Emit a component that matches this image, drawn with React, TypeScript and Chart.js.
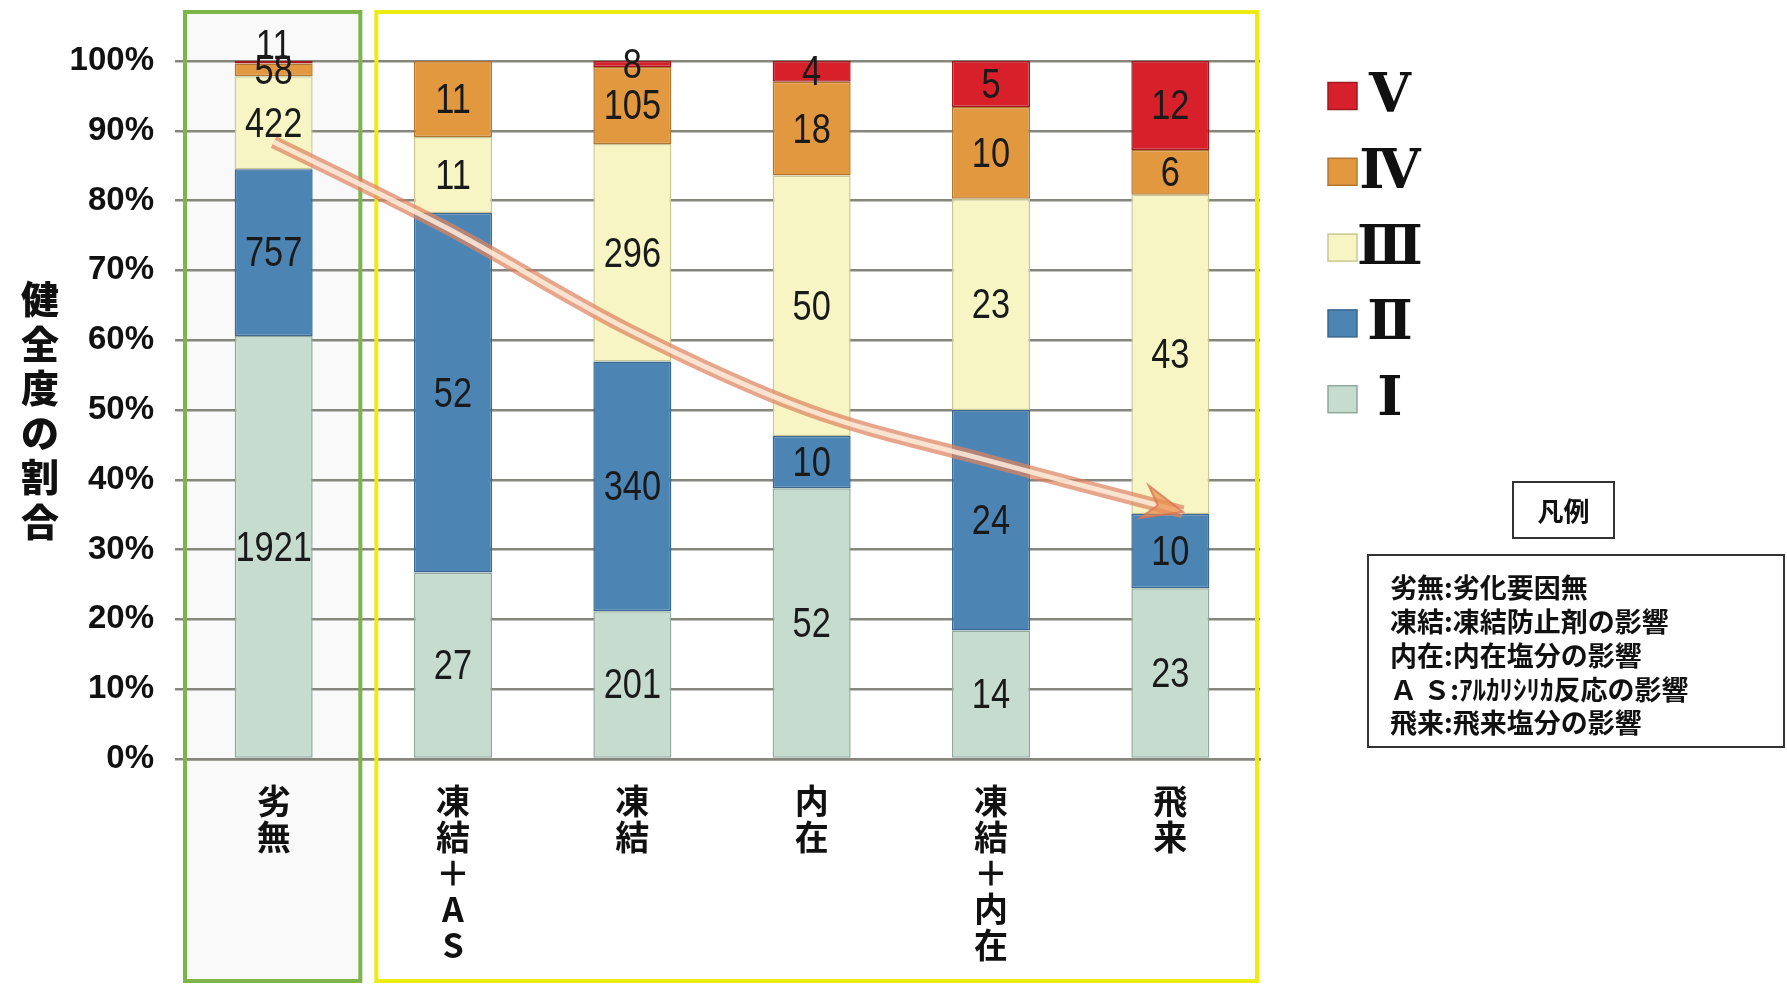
import React, { useEffect, useRef } from "react";
import { Chart, registerables } from "chart.js";

Chart.register(...registerables);

// ---- data ----
const categoryNames = ["劣無", "凍結＋AS", "凍結", "内在", "凍結＋内在", "飛来"];
const seriesNames = ["Ⅰ", "Ⅱ", "Ⅲ", "Ⅳ", "Ⅴ"];
const countsI = [1921, 27, 201, 52, 14, 23];
const countsII = [757, 52, 340, 10, 24, 10];
const countsIII = [422, 11, 296, 50, 23, 43];
const countsIV = [58, 11, 105, 18, 10, 6];
const countsV = [11, 0, 8, 4, 5, 12];
const seriesColors = ["#c6dccf", "#4c84b4", "#f6f5c3", "#e2983f", "#d8202a"];
const seriesBorders = ["#8fa99b", "#3a6890", "#c9c895", "#b27630", "#a3171f"];
const yTitle = "健全度の割合";
const arrowIdx = [0, 0.97, 1.98, 2.98, 3.99, 5.07];
const arrowPct = [88.4, 76, 61.5, 50, 42.7, 35.4];
const noteTitle = "凡例";
const noteLines = [
  "劣無:劣化要因無",
  "凍結:凍結防止剤の影響",
  "内在:内在塩分の影響",
  "Ａ Ｓ:ｱﾙｶﾘｼﾘｶ反応の影響",
  "飛来:飛来塩分の影響",
];

const allCounts = [countsI, countsII, countsIII, countsIV, countsV];
const totals = categoryNames.map((_, j) => allCounts.reduce((s, arr) => s + arr[j], 0));

const CJK = '"Noto Sans CJK JP", "Noto Sans CJK SC", sans-serif';
const gridColor = "#86867e";

const decorPlugin = {
  id: "decor",
  beforeDraw(chart: any) {
    const ctx = chart.ctx;
    const x = chart.scales.x;
    ctx.save();
    ctx.fillStyle = "#ffffff";
    ctx.fillRect(0, 0, chart.width, chart.height);
    const band = x.getPixelForValue(1) - x.getPixelForValue(0);
    const c0 = x.getPixelForValue(0);
    ctx.fillStyle = "rgba(0,0,0,0.022)";
    ctx.fillRect(c0 - band / 2, 12, band - 2, chart.height - 14);
    ctx.restore();
  },
  afterDatasetsDraw(chart: any) {
    const ctx = chart.ctx;
    const x = chart.scales.x;
    const y = chart.scales.y;
    const band = x.getPixelForValue(1) - x.getPixelForValue(0);
    const c0 = x.getPixelForValue(0);
    const cN = x.getPixelForValue(categoryNames.length - 1);
    const top = 12;
    const bottom = chart.height - 3;
    ctx.save();
    // group boxes
    ctx.lineWidth = 4;
    ctx.strokeStyle = "#7db548";
    ctx.strokeRect(c0 - band / 2 + 1, top, band - 4, bottom - top);
    ctx.strokeStyle = "#ecec12";
    ctx.strokeRect(c0 + band / 2 + 13, top, cN + band / 2 - 3 - (c0 + band / 2 + 13), bottom - top);

    // arrow
    const pts = arrowIdx.map((v, i) => ({ x: x.getPixelForValue(v), y: y.getPixelForValue(arrowPct[i]) }));
    const pathCurve = () => {
      ctx.beginPath();
      ctx.moveTo(pts[0].x, pts[0].y);
      for (let i = 0; i < pts.length - 1; i++) {
        const p0 = pts[i - 1] || pts[i];
        const p1 = pts[i];
        const p2 = pts[i + 1];
        const p3 = pts[i + 2] || p2;
        ctx.bezierCurveTo(
          p1.x + (p2.x - p0.x) / 6, p1.y + (p2.y - p0.y) / 6,
          p2.x - (p3.x - p1.x) / 6, p2.y - (p3.y - p1.y) / 6,
          p2.x, p2.y
        );
      }
    };
    ctx.lineCap = "butt";
    pathCurve();
    ctx.strokeStyle = "rgba(222,132,95,0.72)";
    ctx.lineWidth = 13;
    ctx.stroke();
    pathCurve();
    ctx.strokeStyle = "rgba(255,244,226,0.8)";
    ctx.lineWidth = 5;
    ctx.stroke();
    const T = pts[pts.length - 1];
    const P = pts[pts.length - 2];
    const cp2 = { x: T.x - (T.x - P.x) / 6, y: T.y - (T.y - P.y) / 6 };
    let dx = T.x - cp2.x, dy = T.y - cp2.y;
    const dl = Math.hypot(dx, dy) || 1;
    dx /= dl; dy /= dl;
    const nx = -dy, ny = dx;
    const L = 40, W = 17;
    ctx.beginPath();
    ctx.moveTo(T.x, T.y);
    ctx.lineTo(T.x - dx * L + nx * W, T.y - dy * L + ny * W);
    ctx.lineTo(T.x - dx * L * 0.65, T.y - dy * L * 0.65);
    ctx.lineTo(T.x - dx * L - nx * W, T.y - dy * L - ny * W);
    ctx.closePath();
    ctx.fillStyle = "rgba(232,140,75,0.7)";
    ctx.fill();
    ctx.strokeStyle = "rgba(215,115,85,0.75)";
    ctx.lineWidth = 2;
    ctx.stroke();

    // value labels
    ctx.fillStyle = "#1a1a1a";
    ctx.textAlign = "center";
    ctx.textBaseline = "middle";
    ctx.font = '43px "Liberation Sans", Arial, sans-serif';
    for (let j = 0; j < categoryNames.length; j++) {
      let prevY = Infinity;
      for (let d = 0; d < allCounts.length; d++) {
        const count = allCounts[d][j];
        if (!count) continue;
        const el = chart.getDatasetMeta(d).data[j];
        let ly = (el.y + el.base) / 2;
        if (prevY - ly < 25) ly = prevY - 25;
        ctx.save();
        ctx.translate(el.x, ly + 2);
        ctx.scale(0.8, 1);
        ctx.fillText(String(count), 0, 0);
        ctx.restore();
        prevY = ly;
      }
    }
    ctx.restore();
  },
  afterDraw(chart: any) {
    const ctx = chart.ctx;
    ctx.save();
    // y-axis title, upright stacked characters
    ctx.fillStyle = "#111";
    ctx.textAlign = "center";
    ctx.textBaseline = "middle";
    ctx.font = `900 38px ${CJK}`;
    const chars = Array.from(yTitle);
    const midY = (chart.chartArea.top + chart.chartArea.bottom) / 2;
    chars.forEach((ch, k) => {
      ctx.fillText(ch, 40, midY + (k - (chars.length - 1) / 2) * 44.6);
    });

    // series legend (top = Ⅴ)
    for (let k = 0; k < seriesNames.length; k++) {
      const s = seriesNames.length - 1 - k;
      const cy = 96 + k * 75.8;
      ctx.fillStyle = seriesColors[s];
      ctx.fillRect(1328, cy - 13.5, 29, 27);
      ctx.strokeStyle = seriesBorders[s];
      ctx.lineWidth = 1.5;
      ctx.strokeRect(1328, cy - 13.5, 29, 27);
      ctx.fillStyle = "#111";
      ctx.font = 'bold 54px "DejaVu Serif", "Noto Sans CJK JP", serif';
      ctx.fillText(seriesNames[s], 1390, cy + 2);
    }

    // notes box
    ctx.strokeStyle = "#333";
    ctx.lineWidth = 2;
    ctx.strokeRect(1513, 482, 101, 56);
    ctx.font = `bold 26px ${CJK}`;
    ctx.fillStyle = "#111";
    ctx.fillText(noteTitle, 1563.5, 511);
    ctx.strokeRect(1368, 555, 416, 192);
    ctx.textAlign = "left";
    ctx.font = `bold 27px ${CJK}`;
    noteLines.forEach((line, k) => {
      ctx.fillText(line, 1390, 588 + k * 33.8);
    });
    ctx.restore();
  },
};

export default function App() {
  const ref = useRef<HTMLCanvasElement | null>(null);
  useEffect(() => {
    if (!ref.current) return;
    const datasets = allCounts.map((arr, d) => ({
      label: seriesNames[d],
      data: arr.map((v, j) => (v / totals[j]) * 100),
      backgroundColor: seriesColors[d],
      borderColor: seriesBorders[d],
      borderWidth: 1.5,
      borderSkipped: false as any,
      barPercentage: 0.435,
      categoryPercentage: 1,
    }));
    const chart = new Chart(ref.current, {
      type: "bar",
      data: { labels: categoryNames.map((s) => Array.from(s)), datasets },
      options: {
        responsive: false,
        animation: false,
        layout: { padding: { left: 0, right: 527, top: 61, bottom: 0 } },
        plugins: {
          legend: { display: false },
          tooltip: { enabled: false },
          title: { display: false },
        },
        scales: {
          x: {
            stacked: true,
            grid: { display: false, drawTicks: false },
            border: { display: true, color: gridColor, width: 2.5 },
            ticks: {
              color: "#111",
              font: { family: CJK, size: 34, weight: "bold", lineHeight: 1.06 },
              padding: 24,
              maxRotation: 0,
              minRotation: 0,
              autoSkip: false,
            },
            afterFit: (s: any) => {
              s.height = 225;
            },
          },
          y: {
            stacked: true,
            min: 0,
            max: 100,
            ticks: {
              stepSize: 10,
              callback: (v: any) => v + "%",
              color: "#111",
              font: { family: '"Liberation Sans", Arial, sans-serif', size: 33, weight: "bold" },
              padding: 21,
            },
            grid: { color: gridColor, lineWidth: 2.5, tickLength: 9, drawTicks: true },
            border: { display: false },
            afterFit: (s: any) => {
              s.width = 184;
            },
          },
        },
      } as any,
      plugins: [decorPlugin],
    });
    return () => chart.destroy();
  }, []);
  return (
    <div style={{ position: "absolute", left: 0, top: 0, width: 1787, height: 984, background: "#fff" }}>
      <canvas ref={ref} width={1787} height={984} style={{ display: "block" }} />
    </div>
  );
}
